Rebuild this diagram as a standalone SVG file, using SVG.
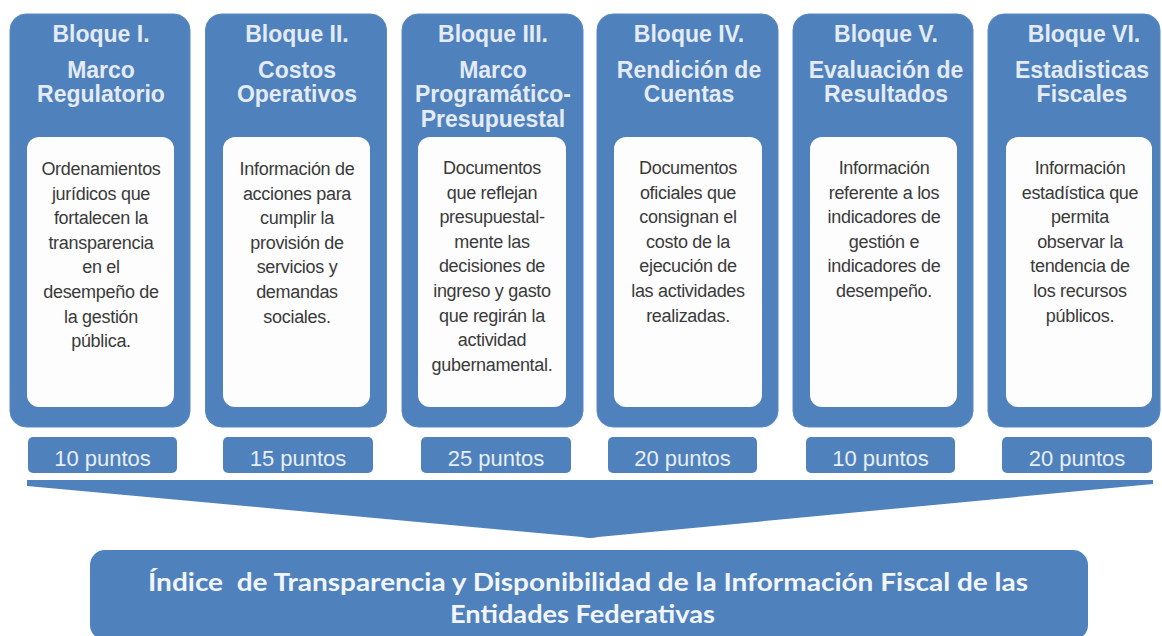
<svg xmlns="http://www.w3.org/2000/svg" width="1162" height="636" viewBox="0 0 1162 636">
<style>
.outer{fill:#4f81bd;stroke:#5a8ac4;stroke-width:1}
.inner{fill:#fdfdfd}
.pts{fill:#4f81bd}
.title{font-family:"Liberation Sans",Arial,sans-serif;font-weight:bold;font-size:23px;fill:#e4ebf5;text-anchor:middle}
.body{font-family:"Liberation Sans",Arial,sans-serif;font-size:18px;fill:#3a3a3a;text-anchor:middle;letter-spacing:-0.3px}
.ptxt{font-family:"Liberation Sans",Arial,sans-serif;font-size:22px;fill:#e8eef7;text-anchor:middle}
.big{font-family:Lato,"Open Sans",sans-serif;font-weight:bold;font-size:24px;fill:#f2f5fa;text-anchor:middle}
</style>
<rect width="1162" height="636" fill="#ffffff"/>

<g id="connectors">
<path d="M27,480 L1153,480 L1153,484 L598,537 Q590,539 582,537 L27,486 Z" fill="#4f81bd"/>
</g>

<g id="bloque1">
<rect class="outer" x="10" y="14" width="180" height="413" rx="16"/>
<rect class="inner" x="27" y="137" width="147" height="270" rx="12"/>
<text class="title" x="101" y="42">Bloque I.</text>
<text class="title" x="101" y="78">Marco</text>
<text class="title" x="101" y="102">Regulatorio</text>
<text class="body" x="101" y="175">Ordenamientos</text>
<text class="body" x="101" y="199.6">jurídicos que</text>
<text class="body" x="101" y="224.2">fortalecen la</text>
<text class="body" x="101" y="248.8">transparencia</text>
<text class="body" x="101" y="273.4">en el</text>
<text class="body" x="101" y="298">desempeño de</text>
<text class="body" x="101" y="322.6">la gestión</text>
<text class="body" x="101" y="347.2">pública.</text>
</g>

<g id="bloque2">
<rect class="outer" x="205.5" y="14" width="181" height="413" rx="16"/>
<rect class="inner" x="223" y="137" width="147" height="270" rx="12"/>
<text class="title" x="297" y="42">Bloque II.</text>
<text class="title" x="297" y="78">Costos</text>
<text class="title" x="297" y="102">Operativos</text>
<text class="body" x="297" y="175">Información de</text>
<text class="body" x="297" y="199.6">acciones para</text>
<text class="body" x="297" y="224.2">cumplir la</text>
<text class="body" x="297" y="248.8">provisión de</text>
<text class="body" x="297" y="273.4">servicios y</text>
<text class="body" x="297" y="298">demandas</text>
<text class="body" x="297" y="322.6">sociales.</text>
</g>

<g id="bloque3">
<rect class="outer" x="402" y="14" width="181" height="413" rx="16"/>
<rect class="inner" x="418" y="137" width="148" height="270" rx="12"/>
<text class="title" x="493" y="42">Bloque III.</text>
<text class="title" x="493" y="78">Marco</text>
<text class="title" x="493" y="102">Programático-</text>
<text class="title" x="493" y="127">Presupuestal</text>
<text class="body" x="492" y="174">Documentos</text>
<text class="body" x="492" y="198.6">que reflejan</text>
<text class="body" x="492" y="223.2">presupuestal-</text>
<text class="body" x="492" y="247.8">mente las</text>
<text class="body" x="492" y="272.4">decisiones de</text>
<text class="body" x="492" y="297">ingreso y gasto</text>
<text class="body" x="492" y="321.6">que regirán la</text>
<text class="body" x="492" y="346.2">actividad</text>
<text class="body" x="492" y="370.8">gubernamental.</text>
</g>

<g id="bloque4">
<rect class="outer" x="597" y="14" width="181" height="413" rx="16"/>
<rect class="inner" x="614" y="137" width="148" height="270" rx="12"/>
<text class="title" x="689" y="42">Bloque IV.</text>
<text class="title" x="689" y="78">Rendición de</text>
<text class="title" x="689" y="102">Cuentas</text>
<text class="body" x="688" y="174">Documentos</text>
<text class="body" x="688" y="198.6">oficiales que</text>
<text class="body" x="688" y="223.2">consignan el</text>
<text class="body" x="688" y="247.8">costo de la</text>
<text class="body" x="688" y="272.4">ejecución de</text>
<text class="body" x="688" y="297">las actividades</text>
<text class="body" x="688" y="321.6">realizadas.</text>
</g>

<g id="bloque5">
<rect class="outer" x="793" y="14" width="180" height="413" rx="16"/>
<rect class="inner" x="810" y="137" width="147" height="270" rx="12"/>
<text class="title" x="886" y="42">Bloque V.</text>
<text class="title" x="886" y="78">Evaluación de</text>
<text class="title" x="886" y="102">Resultados</text>
<text class="body" x="884" y="174">Información</text>
<text class="body" x="884" y="198.6">referente a los</text>
<text class="body" x="884" y="223.2">indicadores de</text>
<text class="body" x="884" y="247.8">gestión e</text>
<text class="body" x="884" y="272.4">indicadores de</text>
<text class="body" x="884" y="297">desempeño.</text>
</g>

<g id="bloque6">
<rect class="outer" x="988" y="14" width="172" height="413" rx="16"/>
<rect class="inner" x="1006" y="137" width="146" height="270" rx="12"/>
<text class="title" x="1084" y="42">Bloque VI.</text>
<text class="title" x="1082" y="78">Estadisticas</text>
<text class="title" x="1082" y="102">Fiscales</text>
<text class="body" x="1080" y="174">Información</text>
<text class="body" x="1080" y="198.6">estadística que</text>
<text class="body" x="1080" y="223.2">permita</text>
<text class="body" x="1080" y="247.8">observar la</text>
<text class="body" x="1080" y="272.4">tendencia de</text>
<text class="body" x="1080" y="297">los recursos</text>
<text class="body" x="1080" y="321.6">públicos.</text>
</g>

<g id="puntos1"><rect class="pts" x="28" y="437" width="149" height="36" rx="5"/><text class="ptxt" x="102.5" y="466">10 puntos</text></g>
<g id="puntos2"><rect class="pts" x="223" y="437" width="150" height="36" rx="5"/><text class="ptxt" x="298" y="466">15 puntos</text></g>
<g id="puntos3"><rect class="pts" x="421" y="437" width="150" height="36" rx="5"/><text class="ptxt" x="496" y="466">25 puntos</text></g>
<g id="puntos4"><rect class="pts" x="608" y="437" width="149" height="36" rx="5"/><text class="ptxt" x="682.5" y="466">20 puntos</text></g>
<g id="puntos5"><rect class="pts" x="806" y="437" width="149" height="36" rx="5"/><text class="ptxt" x="880.5" y="466">10 puntos</text></g>
<g id="puntos6"><rect class="pts" x="1002" y="437" width="150" height="36" rx="5"/><text class="ptxt" x="1077" y="466">20 puntos</text></g>

<g id="indice">
<rect x="90" y="550" width="998" height="90" rx="15" fill="#4f81bd"/>
<text class="big" x="588" y="591" textLength="880" lengthAdjust="spacingAndGlyphs" xml:space="preserve">Índice  de Transparencia y Disponibilidad de la Información Fiscal de las</text>
<text class="big" x="582.5" y="623" textLength="265" lengthAdjust="spacingAndGlyphs">Entidades Federativas</text>
</g>
</svg>
